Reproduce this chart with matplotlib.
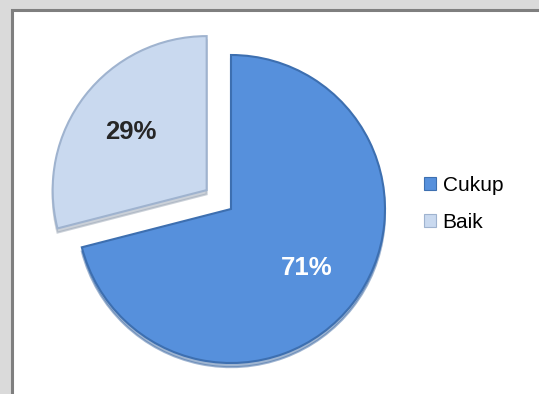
import matplotlib.pyplot as plt
from matplotlib.patches import Rectangle, Patch

# data
categories = ['Cukup', 'Baik']
values = [71, 29]
colors = ['#5690dc', '#c9d9ef']
edge_colors = ['#3d6fb0', '#9fb3cf']
text_colors = ['white', '#262626']

W, H = 539, 394
R = 154  # pie radius in px
fig = plt.figure(figsize=(W / 100, H / 100), dpi=100, facecolor='#dadada')

# white panel with grey frame (runs off the right and bottom edge)
fig.patches.append(Rectangle((11.5 / W, -0.1), 1.2, 1 - 9.5 / H + 0.1,
                             transform=fig.transFigure, facecolor='white',
                             edgecolor='#7f7f7f', linewidth=2.2, zorder=-1))

ax = fig.add_axes([0, 0, 1, 1])

# explode is in data units here, so scale by radius
wedges, texts, autotexts = ax.pie(
    values, colors=colors, startangle=90, counterclock=False,
    explode=[0, 0.2 * R], center=(231, H - 209), radius=R,
    autopct=lambda p: f'{p:.0f}%', pctdistance=0.62,
    shadow={'ox': 0, 'oy': -3, 'shade': 0.25},
    wedgeprops={'linewidth': 1.5},
    textprops={'fontsize': 18.5, 'fontweight': 'bold', 'family': 'Liberation Sans'})

ax.set_xlim(0, W)
ax.set_ylim(0, H)
ax.set_aspect('equal')
ax.axis('off')

for w, ec in zip(wedges, edge_colors):
    w.set_edgecolor(ec)
for t, c in zip(autotexts, text_colors):
    t.set_color(c)

handles = [Patch(facecolor=c, edgecolor=ec, linewidth=0.8) for c, ec in zip(colors, edge_colors)]
fig.legend(handles, categories, loc='center left',
           bbox_to_anchor=(405 / W, 1 - 204 / H), frameon=False,
           handlelength=0.6, handleheight=0.6, handletextpad=0.3,
           labelspacing=0.85, prop={'family': 'Liberation Sans', 'size': 15})

fig.savefig('out.png', dpi=100, facecolor=fig.get_facecolor())
